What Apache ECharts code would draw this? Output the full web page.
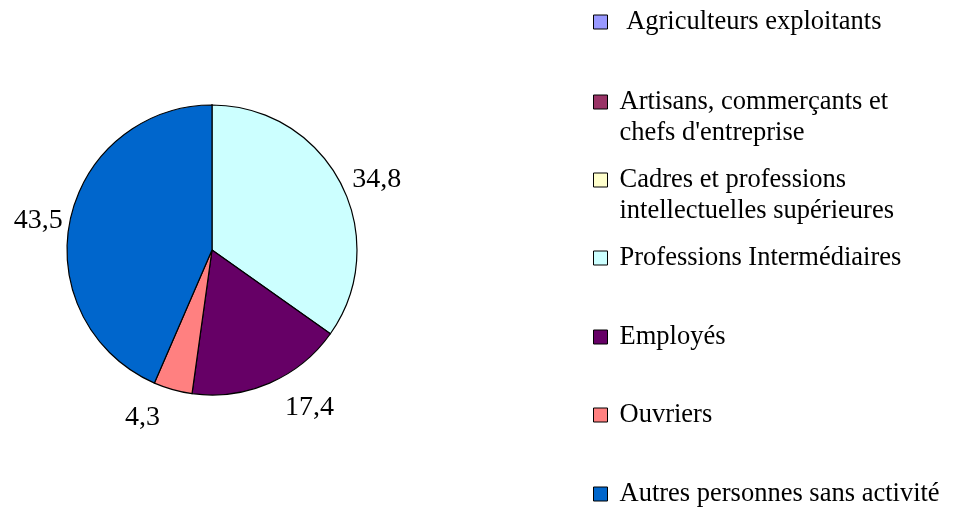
<!DOCTYPE html>
<html>
<head>
<meta charset="utf-8">
<script src="https://cdn.jsdelivr.net/npm/echarts@6/dist/echarts.min.js"></script>
<style>
html,body{margin:0;padding:0;background:#fff;}
#chart{width:958px;height:509px;}
</style>
</head>
<body>
<div id="chart"></div>
<script>
var categories = [
  " Agriculteurs exploitants",
  "Artisans, commerçants et\nchefs d'entreprise",
  "Cadres et professions\nintellectuelles supérieures",
  "Professions Intermédiaires",
  "Employés",
  "Ouvriers",
  "Autres personnes sans activité"
];
var values = [0, 0, 0, 34.8, 17.4, 4.3, 43.5];
var colors = ["#9999FF", "#993366", "#FFFFCC", "#CCFFFF", "#660066", "#FF8080", "#0066CC"];

var FONT = "'Liberation Serif', 'Times New Roman', serif";
var legendCenters = [22, 102, 180, 258, 337, 415, 494];

var legends = categories.map(function (name, i) {
  var multi = name.indexOf("\n") >= 0;
  return {
    orient: 'vertical',
    left: 593,
    top: multi ? legendCenters[i] - 46.5 : legendCenters[i] - 15.5,
    itemWidth: 14,
    itemHeight: 14,
    selectedMode: false,
    icon: 'rect',
    itemStyle: {borderColor: '#000', borderWidth: 1},
    data: [name],
    formatter: function (n) { return multi ? "\n" + n : n; },
    textStyle: {fontFamily: FONT, fontSize: 26.5, color: '#000', lineHeight: 31, padding: [0, 0, 0, 7]},
    padding: 0
  };
});

// label distance from the rim grows toward the bottom of the pie (Excel-like placement)
var total = values.reduce(function (a, b) { return a + b; }, 0);
var acc = 0;
var pieData = categories.map(function (c, i) {
  var mid = (acc + values[i] / 2) / total * 2 * Math.PI;
  acc += values[i];
  var dy = Math.cos(mid);
  return {
    name: c,
    value: values[i],
    label: {show: values[i] > 0},
    labelLine: {show: false, length: 1 + 30 * dy * dy, length2: 0}
  };
});

var chart = echarts.init(document.getElementById('chart'), null, {renderer: 'canvas'});
chart.setOption({
  backgroundColor: '#fff',
  animation: false,
  color: colors,
  legend: legends,
  series: [{
    type: 'pie',
    center: [212, 250],
    radius: 145,
    startAngle: 90,
    clockwise: true,
    avoidLabelOverlap: false,
    minAngle: 0,
    itemStyle: {borderColor: '#000', borderWidth: 1.2},
    label: {
      position: 'outside',
      fontFamily: FONT,
      fontSize: 28,
      color: '#000',
      formatter: function (p) { return String(p.value).replace('.', ','); }
    },
    labelLine: {show: false, length2: 0},
    emphasis: {disabled: true},
    data: pieData
  }]
});
</script>
</body>
</html>
